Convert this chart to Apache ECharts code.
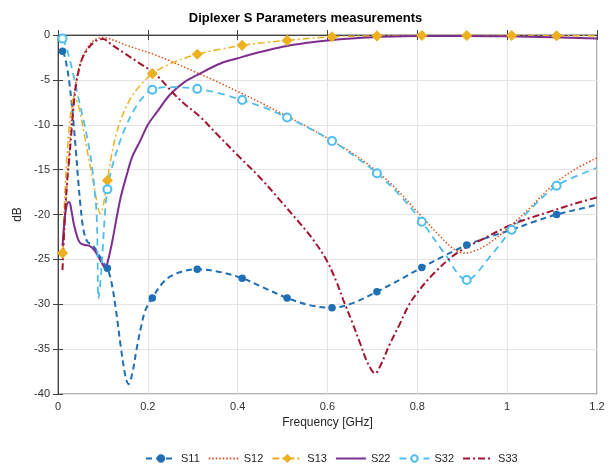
<!DOCTYPE html>
<html>
<head>
<meta charset="utf-8">
<script src="https://cdn.jsdelivr.net/npm/echarts@6/dist/echarts.min.js"></script>
<style>
  html, body { margin: 0; padding: 0; background: #fff; }
  #chart { width: 611px; height: 469px; }
</style>
</head>
<body>
<div id="chart"></div>
<script>
// measured curves, [frequency GHz, dB]
const s11 = [[0.01,-1.8],[0.015,-2.4],[0.02,-3.6],[0.025,-5.2],[0.03,-7.4],[0.035,-10],[0.04,-13],[0.045,-16.2],[0.05,-19],[0.055,-21.2],[0.06,-22.4],[0.065,-23],[0.07,-23.2],[0.08,-23.6],[0.09,-24.4],[0.1,-25.3],[0.11,-26],[0.12,-27.8],[0.13,-31],[0.14,-34.8],[0.15,-38],[0.157,-38.9],[0.165,-37.8],[0.175,-35],[0.185,-32.5],[0.195,-30.6],[0.21,-29.3],[0.23,-27.8],[0.25,-26.9],[0.28,-26.3],[0.31,-26.1],[0.36,-26.4],[0.41,-27.1],[0.46,-28.2],[0.51,-29.3],[0.56,-30.1],[0.61,-30.4],[0.66,-29.8],[0.71,-28.6],[0.76,-27.3],[0.81,-25.9],[0.86,-24.6],[0.91,-23.4],[0.96,-22.5],[1.01,-21.7],[1.06,-20.8],[1.11,-20],[1.16,-19.4],[1.2,-18.9]];
const s12 = [[0.01,-24.8],[0.015,-21],[0.02,-17],[0.025,-13],[0.03,-9.5],[0.035,-7],[0.04,-5.2],[0.05,-3],[0.06,-1.9],[0.07,-1.1],[0.08,-0.6],[0.09,-0.35],[0.1,-0.28],[0.11,-0.35],[0.13,-0.7],[0.15,-1.1],[0.18,-1.6],[0.21,-2.1],[0.25,-2.9],[0.3,-4],[0.35,-5.1],[0.4,-6.3],[0.45,-7.5],[0.5,-8.8],[0.55,-10.1],[0.6,-11.5],[0.65,-13],[0.7,-14.8],[0.75,-17],[0.8,-19.7],[0.85,-22.4],[0.88,-23.8],[0.905,-24.3],[0.93,-24],[0.96,-23.2],[1.0,-21.6],[1.05,-19.3],[1.1,-16.8],[1.15,-15],[1.2,-13.7]];
const s13 = [[0.01,-24.3],[0.015,-18],[0.02,-13.5],[0.025,-10.2],[0.03,-8],[0.035,-7],[0.04,-7.1],[0.045,-7.8],[0.05,-8.8],[0.06,-11.5],[0.07,-14.2],[0.08,-16.8],[0.09,-19.4],[0.095,-19.9],[0.1,-19.2],[0.11,-16.2],[0.12,-13.2],[0.13,-11],[0.14,-9.4],[0.16,-7.2],[0.18,-5.8],[0.21,-4.3],[0.26,-3],[0.31,-2.15],[0.36,-1.6],[0.41,-1.15],[0.46,-0.85],[0.51,-0.6],[0.61,-0.2],[0.71,-0.1],[0.81,-0.06],[0.91,-0.05],[1.01,-0.05],[1.11,-0.08],[1.2,-0.1]];
const s22 = [[0.01,-23.5],[0.015,-20.5],[0.02,-18.8],[0.025,-18.6],[0.03,-19.6],[0.035,-21],[0.04,-22],[0.045,-22.8],[0.05,-23.2],[0.06,-23.4],[0.07,-23.5],[0.08,-23.9],[0.09,-24.7],[0.1,-25.6],[0.105,-26],[0.11,-25.4],[0.12,-23.2],[0.13,-20.5],[0.14,-18],[0.153,-15.6],[0.165,-13.6],[0.183,-11.8],[0.2,-10],[0.22,-8.6],[0.25,-6.6],[0.28,-5.3],[0.316,-4.3],[0.36,-3.2],[0.4,-2.6],[0.45,-1.9],[0.5,-1.3],[0.55,-0.9],[0.6,-0.6],[0.7,-0.25],[0.8,-0.12],[0.9,-0.1],[1.0,-0.15],[1.1,-0.25],[1.2,-0.4]];
const s32 = [[0.01,-0.4],[0.015,-0.9],[0.02,-1.6],[0.03,-3.5],[0.04,-5.8],[0.05,-8],[0.06,-10.2],[0.07,-12.8],[0.076,-14.8],[0.082,-17.5],[0.086,-20],[0.088,-24],[0.09,-29.4],[0.095,-27.2],[0.1,-23.5],[0.105,-19.5],[0.11,-17.2],[0.12,-14.8],[0.135,-12.3],[0.15,-10.3],[0.17,-8.3],[0.19,-6.9],[0.21,-6.1],[0.25,-5.8],[0.31,-6],[0.36,-6.5],[0.41,-7.25],[0.46,-8.1],[0.51,-9.2],[0.56,-10.4],[0.61,-11.8],[0.66,-13.5],[0.71,-15.4],[0.76,-17.8],[0.81,-20.8],[0.86,-24.3],[0.91,-27.3],[0.96,-24.8],[1.01,-21.7],[1.06,-19],[1.11,-16.8],[1.16,-15.6],[1.2,-14.8]];
const s33 = [[0.01,-26.2],[0.015,-20.5],[0.02,-16.5],[0.025,-13.8],[0.03,-10.8],[0.035,-7.8],[0.04,-5.6],[0.046,-4],[0.055,-2.5],[0.068,-1.45],[0.08,-0.8],[0.09,-0.52],[0.1,-0.45],[0.12,-1.1],[0.15,-2.1],[0.18,-3.1],[0.21,-4.1],[0.23,-5],[0.255,-6.4],[0.28,-7.6],[0.316,-9.1],[0.353,-11],[0.4,-13.4],[0.45,-15.9],[0.494,-18.4],[0.532,-20.6],[0.565,-22.6],[0.598,-25.1],[0.62,-27.5],[0.635,-29.5],[0.655,-32],[0.673,-34.4],[0.69,-36.6],[0.706,-37.7],[0.72,-36.6],[0.739,-34.4],[0.76,-32.3],[0.78,-30.2],[0.8,-28.7],[0.836,-26.6],[0.888,-24.3],[0.955,-22.5],[1.007,-21.2],[1.05,-20.4],[1.1,-19.6],[1.15,-18.8],[1.2,-18.1]];

const seriesNames = ['S11', 'S12', 'S13', 'S22', 'S32', 'S33'];
const noMarker = ['S12', 'S22', 'S33'];

// markers sit every 0.1 GHz starting from 0.01
function isMarker(f) {
  const k = (f - 0.01) * 10;
  return Math.abs(k - Math.round(k)) < 1e-6;
}
function withMarkers(pts) {
  return pts.map(p => isMarker(p[0]) ? p : { value: p, symbol: 'none' });
}

function line(name, pts, color, type, width, symbol, size) {
  return {
    name: name,
    type: 'line',
    data: withMarkers(pts),
    smooth: 0.35,
    symbol: symbol || 'none',
    symbolSize: size || 6,
    showSymbol: true,
    itemStyle: { color: color, borderColor: color, borderWidth: 1.5 },
    lineStyle: { color: color, type: type, width: width },
    z: 3
  };
}

const chart = echarts.init(document.getElementById('chart'));
chart.setOption({
  animation: false,
  backgroundColor: '#fff',
  textStyle: { fontFamily: 'Liberation Sans, Arial, sans-serif' },
  title: {
    text: 'Diplexer S Parameters measurements',
    left: 'center',
    top: 7,
    textStyle: { fontSize: 13, fontWeight: 'bold', color: '#000' }
  },
  legend: {
    bottom: 0,
    left: 140,
    itemWidth: 30,
    itemHeight: 8,
    itemGap: 8,
    textStyle: { fontSize: 11, color: '#262626' },
    data: seriesNames.map(n => noMarker.indexOf(n) >= 0
      ? { name: n, itemStyle: { opacity: 0 } }
      : n)
  },
  grid: {
    left: 58, right: 14, top: 35, bottom: 75,
    show: true, borderColor: '#666', borderWidth: 1, backgroundColor: '#fff'
  },
  xAxis: [{
    type: 'value', min: 0, max: 1.2, interval: 0.2,
    name: 'Frequency [GHz]', nameLocation: 'middle', nameGap: 22,
    nameTextStyle: { fontSize: 12, color: '#262626' },
    axisLine: { show: true, lineStyle: { color: '#444' } },
    axisTick: { inside: true, length: 5, lineStyle: { color: '#444' } },
    axisLabel: { fontSize: 11, color: '#333', margin: 7 },
    splitLine: { lineStyle: { color: '#e3e3e3' } }
  }, {
    type: 'value', min: 0, max: 1.2, interval: 0.2, position: 'top',
    axisLine: { show: true, lineStyle: { color: '#444' } },
    axisTick: { inside: true, length: 5, lineStyle: { color: '#444' } },
    axisLabel: { show: false }, splitLine: { show: false }
  }],
  yAxis: [{
    type: 'value', min: -40, max: 0, interval: 5,
    name: 'dB', nameLocation: 'middle', nameGap: 34,
    nameTextStyle: { fontSize: 12, color: '#262626' },
    axisLine: { show: true, lineStyle: { color: '#444' } },
    axisTick: { show: true, inside: true, length: 5, lineStyle: { color: '#444' } },
    axisLabel: { fontSize: 11, color: '#333', margin: 8 },
    splitLine: { lineStyle: { color: '#e3e3e3' } }
  }, {
    type: 'value', min: -40, max: 0, interval: 5, position: 'right',
    axisLine: { show: true, lineStyle: { color: '#444' } },
    axisTick: { show: true, inside: true, length: 5, lineStyle: { color: '#444' } },
    axisLabel: { show: false }, splitLine: { show: false }
  }],
  series: [
    line('S11', s11, '#1f6fb5', [6, 4], 2, 'circle', 6),
    line('S12', s12, '#D95319', [1.5, 2], 1.5),
    line('S13', s13, '#EDB120', [7, 3, 2, 3], 1.5, 'diamond', 9),
    line('S22', s22, '#7E2F8E', 'solid', 2),
    line('S32', s32, '#4DBEEE', [7, 5], 1.8, 'emptyCircle', 8),
    line('S33', s33, '#A2142F', [7, 3, 2, 3], 2)
  ]
});
</script>
</body>
</html>
